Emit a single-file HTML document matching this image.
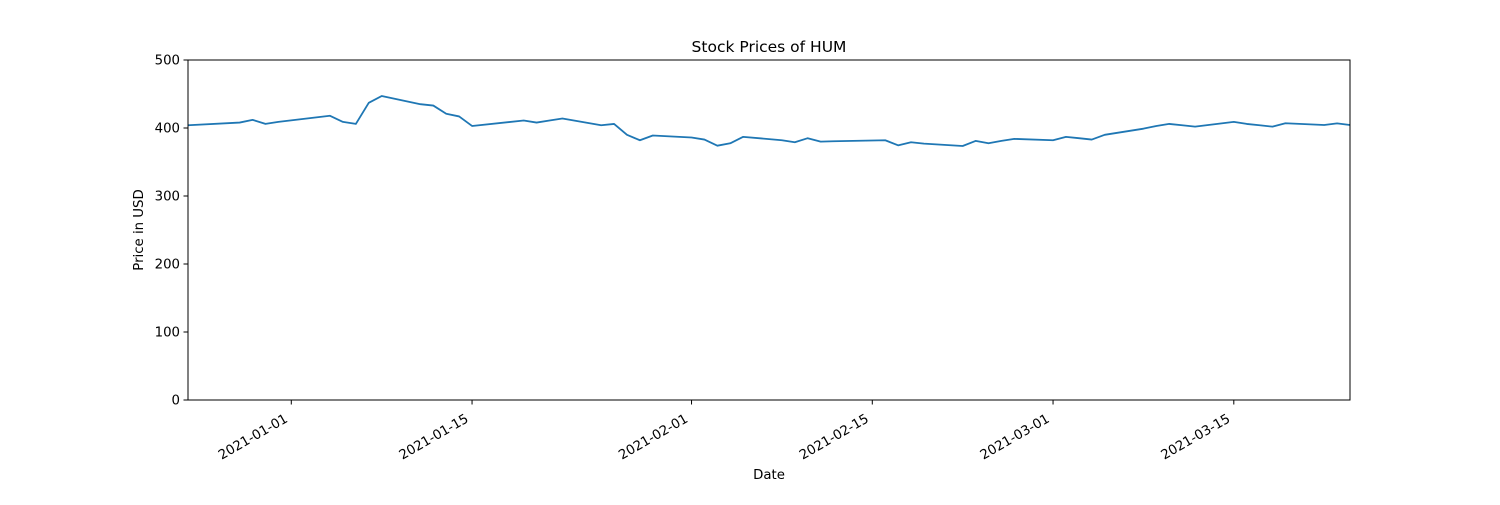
<!DOCTYPE html>
<html><head><meta charset="utf-8"><style>
html,body{margin:0;padding:0;background:#fff;}
svg text{font-family:"DejaVu Sans","Liberation Sans",sans-serif;fill:#000;}
</style></head><body>
<svg id="chart" width="1500" height="500" xmlns="http://www.w3.org/2000/svg">
<rect width="1500" height="500" fill="#fff"/>
<text x="769" y="52" font-size="15.5" text-anchor="middle">Stock Prices of HUM</text>
<text x="769" y="479" font-size="13.3" text-anchor="middle">Date</text>
<text transform="translate(143,230) rotate(-90)" font-size="13.3" text-anchor="middle">Price in USD</text>
<g id="yticks"></g>
<g id="xticks"></g>
<path id="line" fill="none" stroke="#1f77b4" stroke-width="1.8" stroke-linejoin="round"/>
<rect x="188" y="60" width="1162" height="340" fill="none" stroke="#000" stroke-width="1"/>
</svg>
<script>
const dates = ["2020-12-24","2020-12-28","2020-12-29","2020-12-30","2020-12-31","2021-01-04","2021-01-05","2021-01-06","2021-01-07","2021-01-08","2021-01-11","2021-01-12","2021-01-13","2021-01-14","2021-01-15","2021-01-19","2021-01-20","2021-01-21","2021-01-22","2021-01-25","2021-01-26","2021-01-27","2021-01-28","2021-01-29","2021-02-01","2021-02-02","2021-02-03","2021-02-04","2021-02-05","2021-02-08","2021-02-09","2021-02-10","2021-02-11","2021-02-12","2021-02-16","2021-02-17","2021-02-18","2021-02-19","2021-02-22","2021-02-23","2021-02-24","2021-02-25","2021-02-26","2021-03-01","2021-03-02","2021-03-03","2021-03-04","2021-03-05","2021-03-08","2021-03-09","2021-03-10","2021-03-11","2021-03-12","2021-03-15","2021-03-16","2021-03-17","2021-03-18","2021-03-19","2021-03-22","2021-03-23","2021-03-24"];
const prices = [404,408,412,406,409,418,409,406,437,447,435,433,421,417,403,411,408,411,414,404,406,390,382,389,386,383,374,377.5,387,382,379,385,380,380.5,382,374.5,379,377,373.5,381,377.5,381,384,382,387,385,383,390,399,403,406,404,402,409,406,404,402,407,404.4,406.8,404.4];
const yTicks = [0,100,200,300,400,500];
const xTickLabels = ["2021-01-01","2021-01-15","2021-02-01","2021-02-15","2021-03-01","2021-03-15"];
const NS="http://www.w3.org/2000/svg";
const L=188,R=1350,T=60,B=400;
const d0=Date.parse("2020-12-24"), d1=Date.parse("2021-03-24");
const xs=d=>L+(Date.parse(d)-d0)/(d1-d0)*(R-L);
const ys=v=>B-(v/500)*(B-T);
const yg=document.getElementById('yticks');
yTicks.forEach(v=>{
  const y=ys(v);
  const ln=document.createElementNS(NS,'line');
  ln.setAttribute('x1',L-4.5);ln.setAttribute('x2',L);ln.setAttribute('y1',y);ln.setAttribute('y2',y);ln.setAttribute('stroke','#000');
  
  
  yg.appendChild(ln);
  const t=document.createElementNS(NS,'text');
  t.setAttribute('x',L-8);t.setAttribute('y',y+4.5);t.setAttribute('font-size','13.3');t.setAttribute('text-anchor','end');
  t.textContent=v;
  
  
  yg.appendChild(t);
});
const xg=document.getElementById('xticks');
xTickLabels.forEach(d=>{
  const x=xs(d);
  const ln=document.createElementNS(NS,'line');
  ln.setAttribute('x1',x);ln.setAttribute('x2',x);ln.setAttribute('y1',B);ln.setAttribute('y2',B+4.5);ln.setAttribute('stroke','#000');
  
  
  xg.appendChild(ln);
  const t=document.createElementNS(NS,'text');
  t.setAttribute('transform','translate('+(x-8)+','+(B+12)+') rotate(-30)');
  t.setAttribute('font-size','13.3');t.setAttribute('text-anchor','end');t.setAttribute('dy','0.8em');
  t.textContent=d;
  
  
  xg.appendChild(t);
});
let p='';
dates.forEach((d,i)=>{p+=(i?'L':'M')+xs(d).toFixed(2)+','+ys(prices[i]).toFixed(2);});
document.getElementById('line').setAttribute('d',p);
</script>
</body></html>
